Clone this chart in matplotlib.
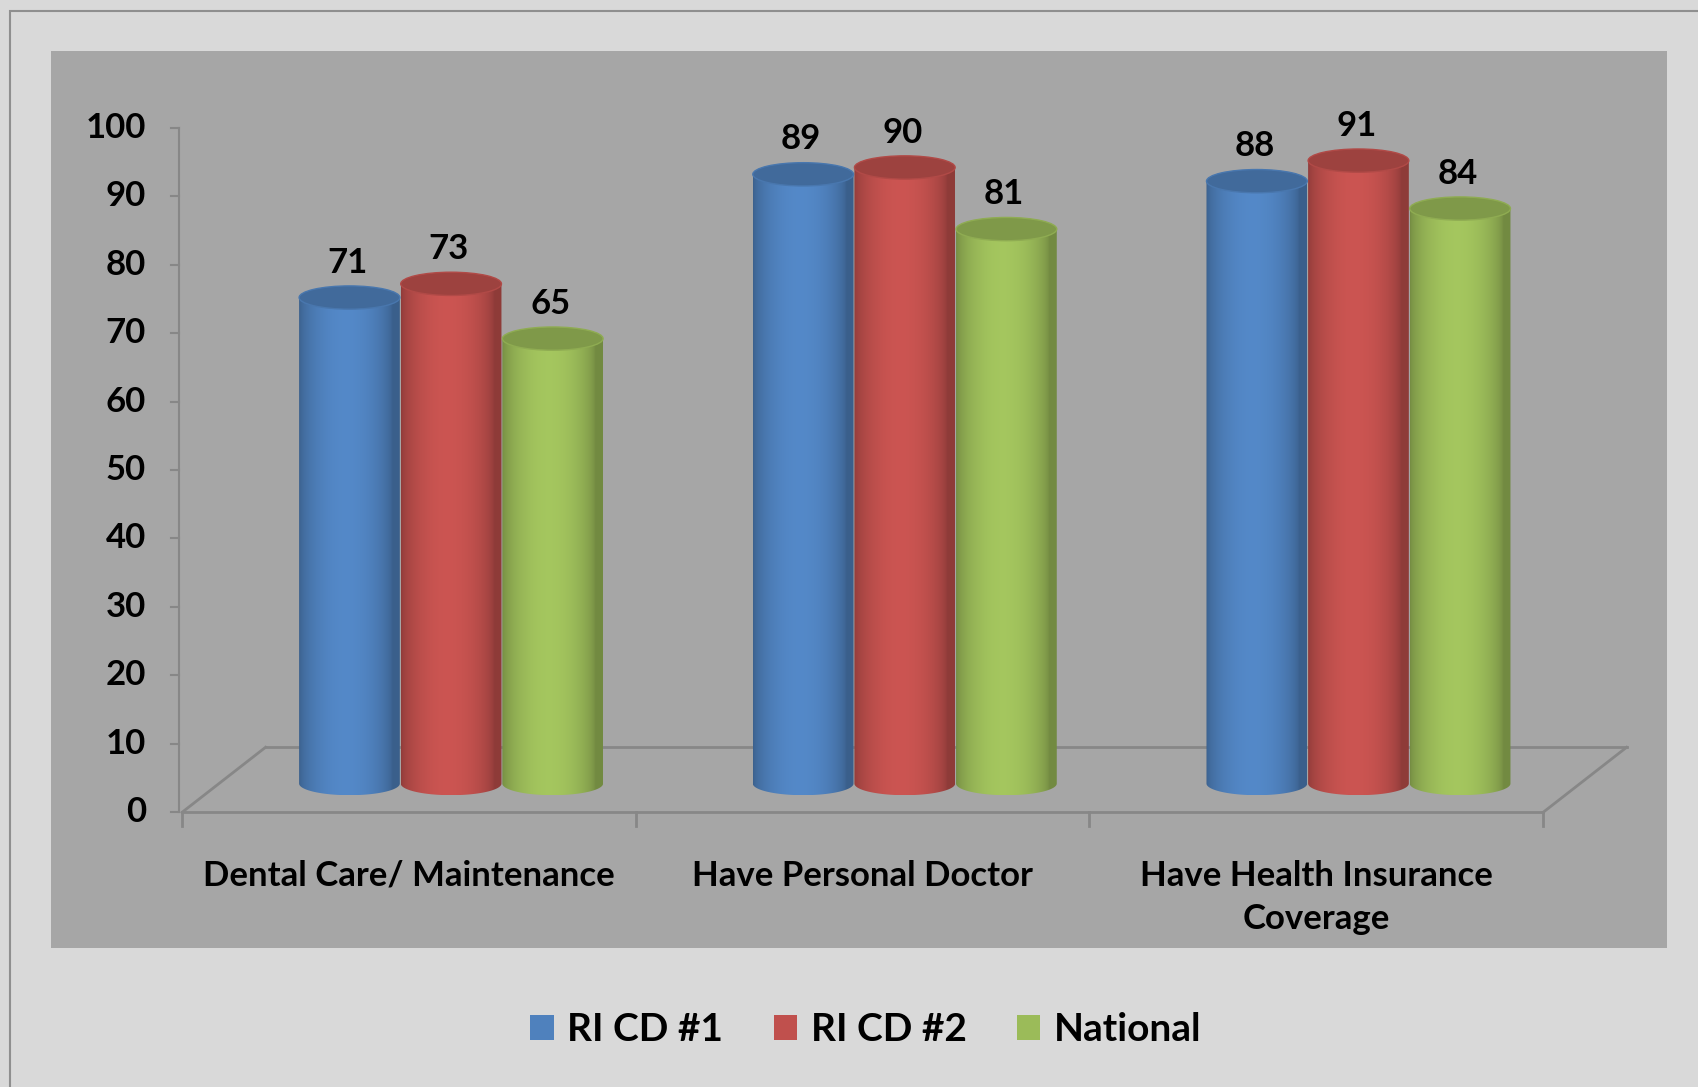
import numpy as np
import matplotlib.pyplot as plt
import matplotlib.colors as mcolors
from matplotlib.patches import Ellipse, PathPatch, Patch, Rectangle
from matplotlib.path import Path

# ------------------------------------------------------------
# data
# ------------------------------------------------------------
categories = ["Dental Care/ Maintenance", "Have Personal Doctor",
              "Have Health Insurance\nCoverage"]
series_names = ["RI CD #1", "RI CD #2", "National"]
ri_cd1 = [71, 89, 88]
ri_cd2 = [73, 90, 91]
national = [65, 81, 84]
series_values = [ri_cd1, ri_cd2, national]
series_colors = ["#4f81bd", "#c0504d", "#9bbb59"]
y_ticks = list(range(0, 101, 10))

# ------------------------------------------------------------
# pseudo-3D layout
# ------------------------------------------------------------
BAR_W = 0.222       # cylinder diameter (category units)
STEP = 0.224        # distance between cylinders in a group
DEPTH_X = 0.093     # bars stand halfway back on the floor
DEPTH_Y = 4.2
FLOOR_DX = 0.184
FLOOR_DY = 9.5
RY = 1.7            # half height of the cylinder ellipses
AXIS_X = -0.507
LINE_C = "#878787"
FS = 25

plt.rcParams["font.family"] = ["Lato", "DejaVu Sans"]
plt.rcParams["font.weight"] = "bold"

fig = plt.figure(figsize=(16.98, 10.87), dpi=100, facecolor="#d9d9d9")
fig.patches.append(Rectangle((10 / 1698, -0.1), 1.2, 1.1 - 11 / 1087,
                             transform=fig.transFigure, fill=False,
                             edgecolor="#8f8f8f", linewidth=1.5))

ax = fig.add_axes([0.030, 0.128, 0.952, 0.825])
ax.set_facecolor("#a6a6a6")
for s in ax.spines.values():
    s.set_visible(False)
ax.set_xticks([])
ax.set_yticks([])

n_cat = len(categories)

# floor parallelogram
x_l, x_r = -0.5, n_cat - 0.5
ax.plot([x_l, x_r], [0, 0], color=LINE_C, lw=2, zorder=1)
ax.plot([x_l + FLOOR_DX, x_r + FLOOR_DX], [FLOOR_DY, FLOOR_DY], color=LINE_C, lw=2, zorder=1)
ax.plot([x_l, x_l + FLOOR_DX], [0, FLOOR_DY], color=LINE_C, lw=2, zorder=1)
ax.plot([x_r, x_r + FLOOR_DX], [0, FLOOR_DY], color=LINE_C, lw=2, zorder=1)
for k in range(n_cat + 1):
    ax.plot([k - 0.5, k - 0.5], [0, -2.0], color=LINE_C, lw=2, zorder=1)

# value axis
ax.plot([AXIS_X, AXIS_X], [0, 100], color=LINE_C, lw=1.5, zorder=1)
for t in y_ticks:
    ax.plot([AXIS_X - 0.018, AXIS_X], [t, t], color=LINE_C, lw=1.5, zorder=1)
    ax.text(-0.58, t, str(t), ha="right", va="center", fontsize=FS, color="black")

# horizontal shading across a cylinder
tt = np.linspace(0, 1, 200)
shade = 0.74 + 0.32 * np.sin(np.pi * np.clip(tt * 1.08, 0, 1)) ** 0.6


def cylinder(cx, value, color, z):
    base = np.array(mcolors.to_rgb(color))
    x0, x1 = cx - BAR_W / 2, cx + BAR_W / 2
    yb, yt = DEPTH_Y, DEPTH_Y + value
    ang = np.linspace(np.pi, 2 * np.pi, 60)
    verts = [(x0, yt), (x0, yb)]
    verts += list(zip(cx + BAR_W / 2 * np.cos(ang), yb + RY * np.sin(ang)))
    verts += [(x1, yt), (x0, yt)]
    codes = [Path.MOVETO] + [Path.LINETO] * (len(verts) - 2) + [Path.CLOSEPOLY]
    body = PathPatch(Path(verts, codes), facecolor="none", edgecolor="none",
                     transform=ax.transData)
    ax.add_patch(body)
    grad = np.clip(base[None, None, :] * shade[None, :, None], 0, 1)
    im = ax.imshow(grad, extent=[x0, x1, yb - RY, yt], aspect="auto",
                   interpolation="bilinear", zorder=z)
    im.set_clip_path(body)
    top = Ellipse((cx, yt), BAR_W, 2 * RY, facecolor=np.clip(base * 0.82, 0, 1),
                  edgecolor=np.clip(base * 0.92, 0, 1), lw=1, zorder=z + 0.1)
    ax.add_patch(top)


for j, (vals, col) in enumerate(zip(series_values, series_colors)):
    for i, v in enumerate(vals):
        cx = i + DEPTH_X + (j - 1) * STEP
        cylinder(cx, v, col, 3 + j)
        ax.text(cx - 0.005, v + 9.3, str(v), ha="center", va="center",
                fontsize=FS, color="black", zorder=10)

for i, name in enumerate(categories):
    ax.text(i, -6.9, name, ha="center", va="top", fontsize=FS,
            linespacing=1.45, color="black")

ax.set_xlim(-0.789, 2.774)
ax.set_ylim(-19.8, 111.2)

handles = [Patch(facecolor=c, edgecolor="none") for c in series_colors]
fig.legend(handles, series_names, loc="center", bbox_to_anchor=(0.51, 0.053),
           ncol=3, frameon=False, fontsize=28, handlelength=0.6,
           handleheight=0.6, handletextpad=0.35, columnspacing=1.3)

fig.savefig("out.png", dpi=100, facecolor=fig.get_facecolor())
